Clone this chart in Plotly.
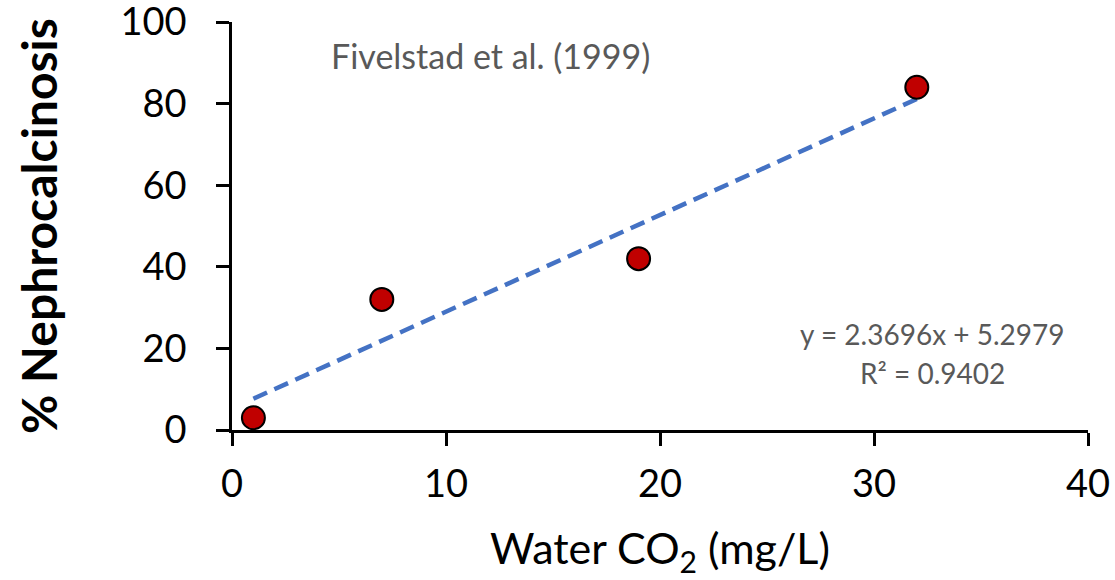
import plotly.graph_objects as go

# Data
co2 = [1, 7, 19, 32]
nephro = [3, 32, 42, 84]
slope = 2.3696
intercept = 5.2979
r2 = 0.9402
x_ticks = [0, 10, 20, 30, 40]
y_ticks = [0, 20, 40, 60, 80, 100]

FONT = "Lato"
GRAY = "#595959"

trend_x = [min(co2), max(co2)]
trend_y = [slope * v + intercept for v in trend_x]

fig = go.Figure()
fig.add_trace(go.Scatter(
    x=trend_x, y=trend_y, mode="lines",
    line=dict(color="#4472C4", width=4.5, dash="15px,8px"),
    showlegend=False, hoverinfo="skip",
))
fig.add_trace(go.Scatter(
    x=co2, y=nephro, mode="markers",
    marker=dict(size=23, color="#C00000", line=dict(color="black", width=2)),
    showlegend=False, cliponaxis=False,
))

L, R, T, B = 232, 27, 22, 150
fig.update_layout(
    width=1115, height=580,
    margin=dict(l=L, r=R, t=T, b=B),
    paper_bgcolor="white", plot_bgcolor="white",
    font=dict(family=FONT, color="black"),
    xaxis=dict(
        range=[0, 40], tickvals=x_ticks, showgrid=False, zeroline=False,
        showline=True, linecolor="black", linewidth=2.5,
        ticks="outside", ticklen=13, tickwidth=2.5, tickcolor="black",
        tickfont=dict(family=FONT, size=38, color="black"),
        ticklabelstandoff=6, ticklabeloverflow="allow",
        title=dict(text="Water CO<sub>2</sub> (mg/L)", font=dict(family=FONT, size=43, color="black"), standoff=30),
        automargin=False,
    ),
    yaxis=dict(
        range=[0, 100], tickvals=y_ticks, showgrid=False, zeroline=False,
        showline=True, linecolor="black", linewidth=2.5,
        ticks="outside", ticklen=13, tickwidth=2.5, tickcolor="black",
        tickfont=dict(family=FONT, size=38, color="black"),
        ticklabelstandoff=22, ticklabeloverflow="allow",
        title=dict(text="<b>% Nephrocalcinosis</b>", font=dict(family=FONT, size=48, color="black"), standoff=48),
        automargin=False,
    ),
)

pw = 1115 - L - R
ph = 580 - T - B


def ann(text, px, py, size):
    return dict(text=text, xref="paper", yref="paper",
                x=(px - L) / pw, y=1 - (py - T) / ph,
                xanchor="center", yanchor="middle", showarrow=False,
                font=dict(family=FONT, size=size, color=GRAY))


fig.update_layout(annotations=[
    ann("Fivelstad et al. (1999)", 490, 55, 34),
    ann(f"y = {slope}x + {intercept}", 932, 334, 28),
    ann(f"R² = {r2}", 932, 373, 28),
])

fig.write_html("out.html", config={"displayModeBar": False},
               post_script="document.body.style.margin='0';document.body.style.overflow='hidden';")
